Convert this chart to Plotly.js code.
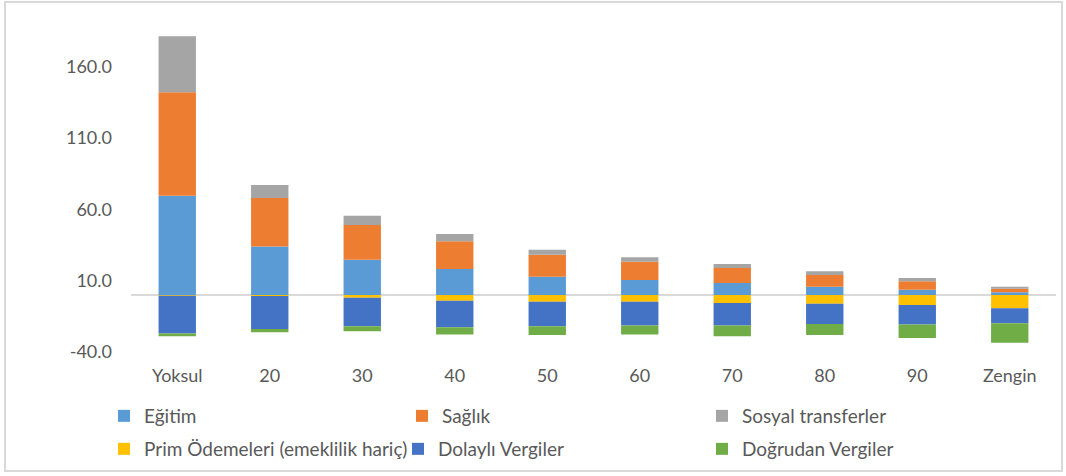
<!DOCTYPE html>
<html>
<head>
<meta charset="utf-8">
<script src="https://cdn.plot.ly/plotly-3.0.1.min.js"></script>
<style>
  html, body { margin: 0; padding: 0; background: #ffffff; }
  #chart { width: 1066px; height: 476px; }
  #frame { position: absolute; left: 4px; top: 1px; width: 1059px; height: 471px;
           border: 2px solid #d9d9d9; pointer-events: none; box-sizing: border-box; }
</style>
</head>
<body>
<div id="chart"></div>
<div id="frame"></div>
<script>
const categories = ["Yoksul", "20", "30", "40", "50", "60", "70", "80", "90", "Zengin"];

const egitim   = [69.6, 33.9, 24.7, 18.2, 12.8, 10.5, 8.4, 5.8, 3.7, 1.9];
const saglik   = [72.5, 34.1, 24.3, 19.4, 15.4, 12.8, 10.5, 8.2, 5.9, 2.5];
const sosyal   = [39.3, 9.1, 6.5, 5.1, 3.5, 3.1, 2.8, 2.6, 2.3, 1.4];
const prim     = [-0.5, -0.8, -2.0, -4.0, -4.7, -4.7, -5.6, -6.1, -7.0, -9.3];
const dolayli  = [-26.6, -23.1, -19.9, -18.6, -17.2, -16.8, -15.9, -14.2, -13.8, -10.5];
const dogrudan = [-1.9, -2.3, -3.5, -5.2, -6.1, -6.3, -7.5, -7.7, -9.3, -13.8];

const yTickVals = [-40, 10, 60, 110, 160];
const yTickText = ["-40.0", "10.0", "60.0", "110.0", "160.0"];

const seriesNames = ["Eğitim", "Sağlık", "Sosyal transferler",
                     "Prim Ödemeleri (emeklilik hariç)", "Dolaylı Vergiler", "Doğrudan Vergiler"];
const seriesData = [egitim, saglik, sosyal, prim, dolayli, dogrudan];
const seriesColors = ["#5B9BD5", "#ED7D31", "#A5A5A5", "#FFC000", "#4472C4", "#70AD47"];
const legendIds = ["legend", "legend2", "legend3", "legend4", "legend5", "legend6"];

const font = "Lato, 'Open Sans', sans-serif";
const textColor = "#595959";

const traces = seriesNames.map((name, i) => ({
  type: "bar",
  name: name,
  x: categories,
  y: seriesData[i],
  marker: { color: seriesColors[i], line: { width: 0 } },
  legend: legendIds[i],
  showlegend: true,
  hoverinfo: "x+y+name"
}));

// legend positions (container pixels)
const legendPos = [
  [104, 416], [402, 416], [702, 416],
  [104, 449], [398, 449], [702, 449]
];

const layout = {
  width: 1066,
  height: 476,
  paper_bgcolor: "#ffffff",
  plot_bgcolor: "#ffffff",
  barmode: "relative",
  bargap: 0.596,
  showlegend: true,
  margin: { l: 131, r: 10, t: 24, b: 124, autoexpand: false },
  font: { family: font, size: 18, color: textColor },
  xaxis: {
    type: "category",
    showgrid: false,
    showline: false,
    zeroline: false,
    ticks: "",
    tickangle: 0,
    automargin: false,
    ticklabelstandoff: 11,
    tickfont: { family: font, size: 18, color: textColor }
  },
  yaxis: {
    range: [-40, 190],
    tickvals: yTickVals,
    ticktext: yTickText,
    showgrid: false,
    showline: false,
    zeroline: true,
    zerolinecolor: "#d9d9d9",
    zerolinewidth: 1.5,
    ticks: "",
    automargin: false,
    ticklabelstandoff: 18,
    tickfont: { family: font, size: 18, color: textColor }
  }
};

legendIds.forEach((id, i) => {
  layout[id] = {
    xref: "container",
    yref: "container",
    x: legendPos[i][0] / 1066,
    y: 1 - legendPos[i][1] / 476,
    xanchor: "left",
    yanchor: "middle",
    orientation: "v",
    bgcolor: "rgba(0,0,0,0)",
    borderwidth: 0,
    font: { family: font, size: 19, color: textColor },
    itemclick: false,
    itemdoubleclick: false
  };
});

Plotly.newPlot("chart", traces, layout, { displayModeBar: false, staticPlot: true });
</script>
</body>
</html>
